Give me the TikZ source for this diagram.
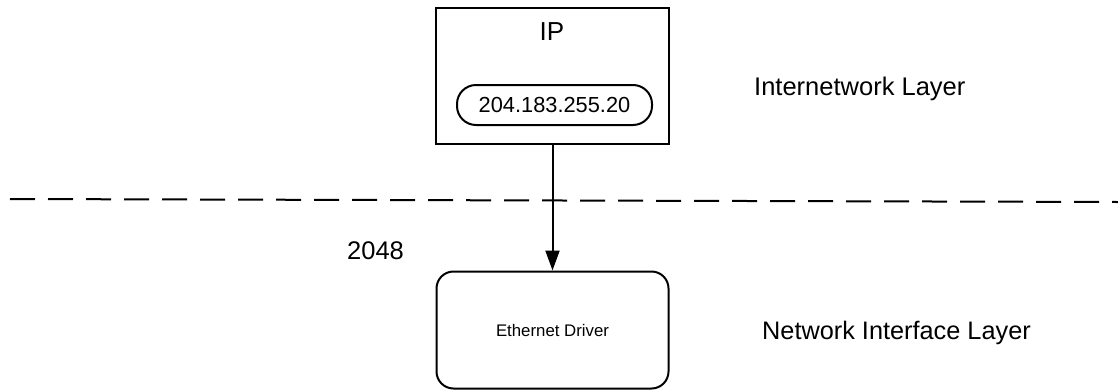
\documentclass[tikz,border=0pt]{standalone}
\usepackage{fontspec}
\setmainfont{Liberation Sans}
\usetikzlibrary{arrows.meta}
\begin{document}
\begin{tikzpicture}[x=1pt,y=-1pt,
  boxstyle/.style={draw, line width=2pt, inner sep=0pt},
  lbl/.style={inner sep=0pt, anchor=west},
  conn/.style={line width=2pt, -{Triangle[length=20pt,width=14pt]}},
  sep/.style={line width=2pt, dash pattern=on 25pt off 13pt}
]
\useasboundingbox (0,0) rectangle (1118,391);
\node[boxstyle, minimum width=233pt, minimum height=136pt] (ipbox) at (552.5,76) {};
\node[inner sep=0pt, font=\fontsize{26}{30}\selectfont] (iplbl) at (552,32) {IP};
\node[boxstyle, rounded corners=19pt, minimum width=195pt, minimum height=40pt, font=\fontsize{21.8}{25}\selectfont] (addr) at (554.5,105) {204.183.255.20};
\node[boxstyle, rounded corners=17pt, minimum width=232pt, minimum height=117pt, font=\fontsize{16.8}{19}\selectfont] (drv) at (552.5,330) {Ethernet Driver};
\draw[conn] (ipbox.south) -- (drv.north);
\coordinate (dl) at (10,199);
\coordinate (dr) at (1118,202);
\draw[sep] (dl) -- (dr);
\node[lbl, font=\fontsize{25.5}{29}\selectfont] (port) at (347,251) {2048};
\node[lbl, font=\fontsize{25.5}{29}\selectfont] (inl) at (754,89) {Internetwork Layer};
\node[lbl, font=\fontsize{25.3}{29}\selectfont] (nil) at (762,333) {Network Interface Layer};
\end{tikzpicture}
\end{document}
